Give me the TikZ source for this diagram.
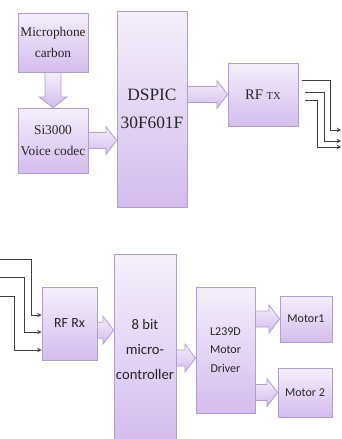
\documentclass[tikz,border=0pt]{standalone}
\usepackage{fontspec}
\setmainfont{Liberation Serif}
\newfontfamily\timesfont{Liberation Serif}
\newfontfamily\calibrifont{Carlito}
\usetikzlibrary{calc,shadows}
\definecolor{blkTop}{RGB}{245,239,251}
\definecolor{blkBot}{RGB}{212,188,238}
\definecolor{blkLine}{RGB}{178,158,202}
\tikzset{
    bd box/.style={draw=blkLine, top color=blkTop, bottom color=blkBot,
                   line width=0.6pt, inner sep=1pt, align=center,
                   text=black!85,
                   drop shadow={opacity=0.18, shadow xshift=0.8pt,
                                shadow yshift=-0.8pt}},
    bd serif/.style={bd box, font=\timesfont\fontsize{10}{15.5}\selectfont},
    bd sans/.style={bd box, font=\calibrifont\fontsize{9}{14}\selectfont},
    bd flow/.style={draw=blkLine, top color=blkTop, bottom color=blkBot,
                    line width=0.6pt},
    bd wire/.style={->, >=stealth, black!75, line width=0.5pt},
}
% horizontal block arrow: start point, tip point (same height)
\newcommand{\flowright}[2]{%
    \path[bd flow] let \p1=#1, \p2=#2 in
        (\x1,\y1+6pt) -- (\x2-8pt,\y1+6pt) -- (\x2-8pt,\y1+10.5pt)
        -- (\x2,\y1) -- (\x2-8pt,\y1-10.5pt) -- (\x2-8pt,\y1-6pt)
        -- (\x1,\y1-6pt) -- cycle;
}
% vertical block arrow, pointing down
\newcommand{\flowdown}[2]{%
    \path[bd flow] let \p1=#1, \p2=#2 in
        (\x1-6pt,\y1) -- (\x1-6pt,\y2+8pt) -- (\x1-10.5pt,\y2+8pt)
        -- (\x1,\y2) -- (\x1+10.5pt,\y2+8pt) -- (\x1+6pt,\y2+8pt)
        -- (\x1+6pt,\y1) -- cycle;
}

\begin{document}
\begin{tikzpicture}[x=0.75pt, y=-0.75pt]
    \useasboundingbox (0,0) rectangle (342,439);
    % Transmitter
    \node[bd serif, minimum width=52.5pt, minimum height=44.25pt]
          (mic) at (53,42.5) {Microphone\\carbon};
    \node[bd serif, minimum width=52.5pt, minimum height=48.75pt]
          (codec) at (53,140.5) {Si3000\\Voice codec};
    \node[bd serif, font=\timesfont\fontsize{13}{21.5}\selectfont,
          minimum width=52.5pt, minimum height=147pt]
          (dspic) at (152,109) {DSPIC\\30F601F};
    \node[bd serif, font=\timesfont\fontsize{11}{13}\selectfont,
          minimum width=52.5pt, minimum height=47.25pt]
          (rftx) at (263,94.5) {RF {\fontsize{8}{10}\selectfont TX}};
    % Receiver
    \node[bd sans, font=\calibrifont\fontsize{10.5}{13}\selectfont,
          minimum width=41.25pt, minimum height=54.75pt]
          (rfrx) at (69.5,323.5) {RF Rx};
    \node[bd sans, font=\calibrifont\fontsize{11}{18.5}\selectfont,
          minimum width=46.5pt, minimum height=143.25pt]
          (mcu) at (145,349.5) {8 bit\\micro-\\controller};
    \node[bd sans, minimum width=44.25pt, minimum height=94.5pt]
          (drv) at (225.5,350) {L239D\\Motor\\Driver};
    \node[bd sans, minimum width=39pt, minimum height=34.5pt]
          (mot1) at (306,319) {Motor1};
    \node[bd sans, minimum width=40.5pt, minimum height=36.75pt]
          (mot2) at (305,392.5) {Motor 2};
    % Block arrows
    \flowdown{(mic.south)}{(codec.north)}
    \flowright{(codec.east)}{(dspic.west |- codec.east)}
    \flowright{(dspic.east |- rftx.west)}{(rftx.west)}
    \coordinate (mcuin) at ([yshift=-5pt]mcu.west |- rfrx.east);
    \flowright{(rfrx.east |- mcuin)}{(mcuin)}
    \coordinate (drvin) at ([yshift=-6pt]drv.west);
    \flowright{(mcu.east |- drvin)}{(drvin)}
    \flowright{(drv.east |- mot1.west)}{(mot1.west)}
    \flowright{(drv.east |- mot2.west)}{(mot2.west)}
    % Antenna wires (transmitter)
    \coordinate (tx1) at (302,80);
    \coordinate (tx2) at (305,92);
    \coordinate (tx3) at (305,100);
    \coordinate (txa1) at (341,130);
    \coordinate (txa2) at (341,141);
    \coordinate (txa3) at (341,147);
    \draw[bd wire] (tx1) -| ([xshift=-8.25pt]txa1) -- (txa1);
    \draw[bd wire] (tx2) -| ([xshift=-12.75pt]txa2) -- (txa2);
    \draw[bd wire] (tx3) -| ([xshift=-18pt]txa3) -- (txa3);
    % Antenna wires (receiver)
    \coordinate (rx1) at (-2,259);
    \coordinate (rx2) at (-2,277);
    \coordinate (rx3) at (-2,296);
    \coordinate (rxa1) at (rfrx.west |- 0,315);
    \coordinate (rxa2) at (rfrx.west |- 0,332);
    \coordinate (rxa3) at (rfrx.west |- 0,350);
    \draw[bd wire] (rx1) -| ([xshift=-7.5pt]rxa1) -- (rxa1);
    \draw[bd wire] (rx2) -| ([xshift=-12.75pt]rxa2) -- (rxa2);
    \draw[bd wire] (rx3) -| ([xshift=-20.25pt]rxa3) -- (rxa3);
\end{tikzpicture}
\end{document}
